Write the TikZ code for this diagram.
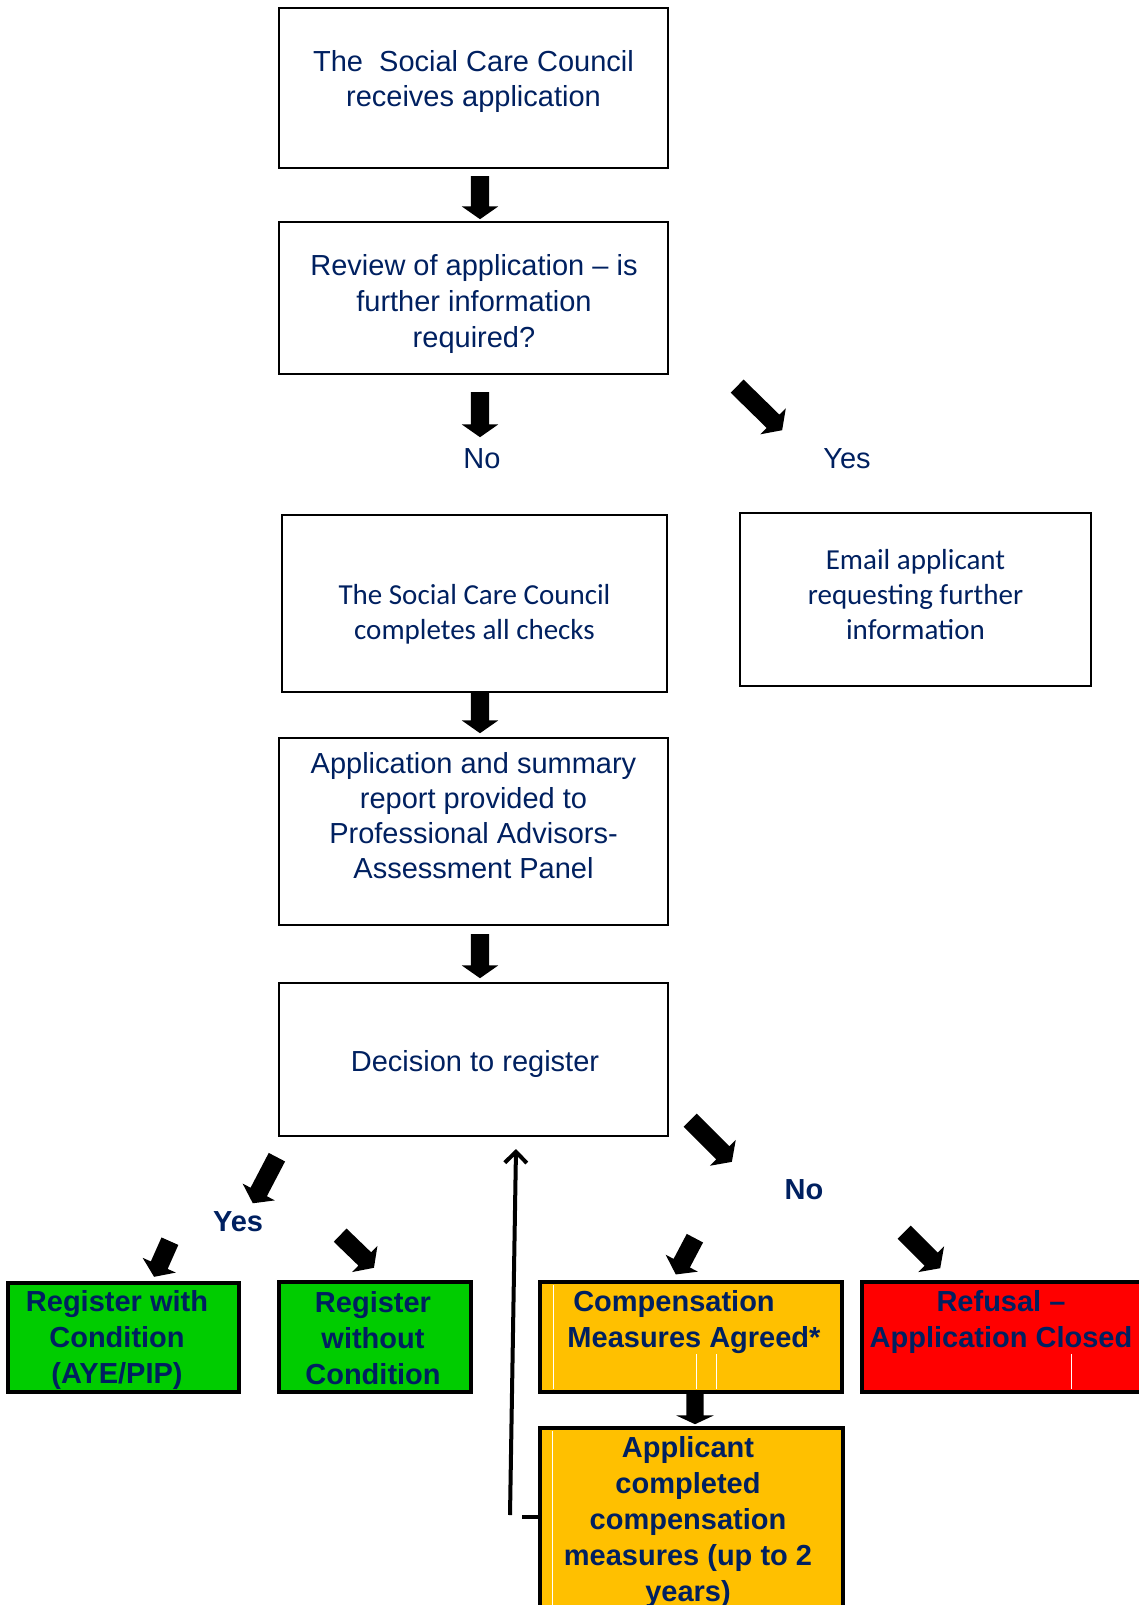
\documentclass[tikz,border=0pt]{standalone}
\usepackage{fontspec}
\setmainfont{Liberation Sans}
\newfontfamily\calibri{Carlito}
\usepackage{tikz}
\usetikzlibrary{positioning,arrows.meta,shapes.arrows}
\definecolor{navy}{HTML}{002060}
\definecolor{okgreen}{HTML}{00CC00}
\definecolor{amber}{HTML}{FFC000}
\definecolor{stopred}{HTML}{FF0000}

\begin{document}
\begin{tikzpicture}[x=1pt,y=-1pt,>=Stealth]
  \tikzstyle{box}=[draw,line width=2.8pt,inner sep=0pt,align=center,text=navy,font=\fontsize{29}{35}\selectfont]
  \tikzstyle{txt}=[inner sep=0pt,align=center,text=navy,font=\fontsize{29}{35}\selectfont]
  \tikzstyle{outcome}=[draw,line width=3.5pt,inner sep=0pt,align=center,text=navy,font=\bfseries\fontsize{29}{36}\selectfont]
  \tikzstyle{blk}=[single arrow,fill=black,inner xsep=0pt,inner ysep=9pt,minimum width=36,single arrow head extend=9,single arrow tip angle=110,anchor=tail]

  \useasboundingbox (0,0) rectangle (1139,1605);

  % main column
  \node[box,minimum width=389,minimum height=160] (recv) at (473.5,88) {};
  \node[txt] (recvT) at (473.5,82) {The\ \ Social Care Council\\receives application};
  \node[box,minimum width=389,minimum height=152] (review) at (473.5,298) {};
  \node[txt,font=\fontsize{29}{36}\selectfont] (reviewT) at (474,304) {Review of application -- is\\further information\\required?};
  \node[box,minimum width=385,minimum height=177] (checks) at (474.5,603.5) {};
  \node[txt,font=\calibri\fontsize{29}{35}\selectfont] (checksT) at (474.5,614) {The Social Care Council\\completes all checks};
  \node[box,minimum width=351,minimum height=173] (email) at (915.5,599.5) {};
  \node[txt,font=\calibri\fontsize{29}{35}\selectfont] (emailT) at (915.5,595) {Email applicant\\requesting further\\information};
  \node[box,minimum width=389,minimum height=187] (panel) at (473.5,831.5) {};
  \node[txt] (panelT) at (473.5,816) {Application and summary\\report provided to\\Professional Advisors-\\Assessment Panel};
  \node[box,minimum width=389,minimum height=153] (decide) at (473.5,1059.5) {};
  \node[txt] (decideT) at (475,1064) {Decision to register};

  % labels
  \node[txt] (noTop) at (482,459) {No};
  \node[txt] (yesTop) at (847,459) {Yes};
  \node[txt,font=\bfseries\fontsize{29}{35}\selectfont] (noBot) at (804,1190) {No};
  \node[txt,font=\bfseries\fontsize{29}{35}\selectfont] (yesBot) at (238,1222) {Yes};

  % outcomes
  \node[outcome,fill=okgreen,minimum width=231,minimum height=109] (withCond) at (123.5,1337.5) {};
  \node[txt,font=\bfseries\fontsize{29}{36}\selectfont] (withCondT) at (117,1340) {Register with\\Condition\\(AYE/PIP)};
  \node[outcome,fill=okgreen,minimum width=192,minimum height=110] (noCond) at (375,1337) {};
  \node[txt,font=\bfseries\fontsize{29}{36}\selectfont] (noCondT) at (373,1338) {Register\\without\\Condition};
  \node[outcome,fill=amber,minimum width=302,minimum height=110] (comp) at (691,1337) {};
  \node[txt,font=\bfseries\fontsize{29}{36}\selectfont] (compT) at (694,1322) {Compensation\hspace*{40pt}\\Measures Agreed*};
  \node[outcome,fill=stopred,minimum width=280,minimum height=110] (refuse) at (1002,1337) {};
  \node[txt,font=\bfseries\fontsize{29}{36}\selectfont] (refuseT) at (1001,1322) {Refusal --\\Application Closed};
  \node[outcome,fill=amber,minimum width=303,minimum height=212] (applicant) at (691.5,1534) {};
  \node[txt,font=\bfseries\fontsize{29}{36}\selectfont] (applicantT) at (688,1522) {Applicant\\completed\\compensation\\measures (up to 2\\years)};

  % white streaks in the coloured boxes
  \draw[white,line width=1pt] (553,1285) -- (553,1389);
  \draw[white,line width=1pt] (696,1354) -- (696,1389);
  \draw[white,line width=1pt] (716,1354) -- (716,1389);
  \draw[white,line width=1pt] (552,1431) -- (552,1605);
  \draw[white,line width=1pt] (1071,1354) -- (1071,1389);

  % block arrows
  \node[blk,rotate=-90,minimum height=43] (a1) at (480,176) {};
  \node[blk,rotate=-90,minimum height=45] (a2) at (480,392) {};
  \node[blk,rotate=-44.4,minimum height=63] (a3) at (737,386) {};
  \node[blk,rotate=-90,minimum height=40] (a4) at (480,693) {};
  \node[blk,rotate=-90,minimum height=44] (a5) at (480,934) {};
  \node[blk,rotate=-45,minimum height=59] (a6) at (690,1120) {};
  \node[blk,rotate=-117.6,minimum height=52] (a7) at (277,1157) {};
  \node[blk,rotate=-114,minimum height=39] (a8) at (170,1241) {};
  \node[blk,rotate=-44,minimum height=47] (a9) at (340,1235) {};
  \node[blk,rotate=-117.8,minimum height=41] (a10) at (695,1238) {};
  \node[blk,rotate=-45,minimum height=51] (a11) at (904,1232) {};
  \node[blk,rotate=-90,minimum height=30,inner ysep=8.5pt,single arrow head extend=10,single arrow tip angle=130] (a12) at (695,1394) {};

  % back to the decision
  \coordinate (retStub) at (522,1517);
  \coordinate (retFoot) at (510,1515);
  \coordinate (retTop) at (516,1149);
  \draw[line width=3.2pt] (applicant.west |- retStub) -- (retStub);
  \draw[line width=4pt,-{Straight Barb[length=11,width=22]}] (retFoot) -- (retTop);
\end{tikzpicture}
\end{document}
